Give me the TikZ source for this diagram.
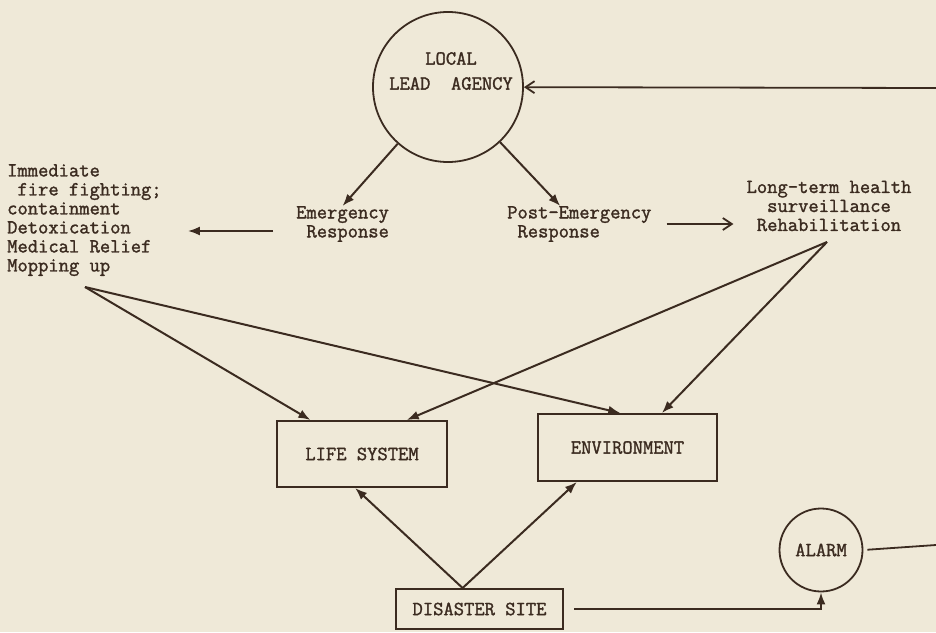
\documentclass[tikz,border=0pt]{standalone}
\usepackage{fontspec}
\setmonofont{Latin Modern Mono}[FakeBold=1.5]
\usepackage{tikz}
\usetikzlibrary{arrows.meta, calc}

\definecolor{ink}{HTML}{3B2B20}
\definecolor{paper}{HTML}{EFE9D8}

\begin{document}
\begin{tikzpicture}[
	x=1pt, y=-1pt,
	txt/.style={text=ink, font=\ttfamily\fontsize{20}{19}\selectfont, inner sep=0pt},
	agency/.style={circle, draw=ink, line width=1.8pt, minimum size=150pt, inner sep=0pt},
	box/.style={draw=ink, line width=2pt, txt, minimum width=170pt, minimum height=66pt},
	arrow/.style={ink, line width=2pt, -{Latex[length=12pt,width=9pt]}},
	openArrow/.style={ink, line width=1.8pt, -{Straight Barb[length=9pt,width=12pt]}}
	]
	
	\fill[paper] (0,0) rectangle (936,632);
	\useasboundingbox (0,0) rectangle (936,632);
	
	% Agencies
	\node[agency] (lla) at (448,87) {};
	\node[txt, align=center] (llaText) at (451,71) {LOCAL\\[6pt]LEAD\ \ AGENCY};
	\node[agency, txt, minimum size=83pt] (alarm) at (821,550) {ALARM};
	
	% Responses
	\node[txt, anchor=west, align=left] (emerg) at (296,224) {Emergency\\\hphantom{x}Response};
	\node[txt, anchor=west, align=left] (post) at (507,224) {Post-Emergency\\\hphantom{x}Response};
	\node[txt, anchor=north west, align=left] (imm) at (7,164) {Immediate\\\hphantom{x}fire fighting;\\containment\\Detoxication\\Medical Relief\\Mopping up};
	\node[txt, align=center] (long) at (829,206) {Long-term health\\surveillance\\Rehabilitation};
	
	% Systems
	\node[box] (life) at (362,454) {LIFE SYSTEM};
	\node[box, minimum width=179pt, minimum height=67pt] (env) at (627.5,447.5) {ENVIRONMENT};
	\node[box, minimum width=167pt, minimum height=40pt] (site) at (479.5,609) {DISASTER SITE};
	
	\coordinate (mopV) at (85,287);
	\coordinate (longV) at (827,242);
	\coordinate (siteV) at ($(site.north west)!.4!(site.north east)$);
	\coordinate (fromR) at (936,88);
	\coordinate (toR) at (936,545);
	\coordinate (eY) at (0,231);
	
	% top part
	\draw[openArrow] (fromR) -- (lla);
	\draw[arrow] (lla) -- (emerg.north);
	\draw[arrow] (lla) -- ([xshift=-19pt]post.north);
	\draw[arrow, shorten <=23pt, shorten >=26pt] (emerg.west |- eY) -- (imm.east |- eY);
	\draw[openArrow, shorten <=15pt, shorten >=13pt] (post.east) -- (post.east -| long.west);
	
	% crossing lines
	\draw[arrow] (mopV) -- ($(life.north west)!.2!(life.north east)$);
	\draw[arrow] (mopV) -- ($(env.north west)!.46!(env.north east)$);
	\draw[arrow] (longV) -- ($(life.north west)!.76!(life.north east)$);
	\draw[arrow] (longV) -- ($(env.north west)!.69!(env.north east)$);
	
	% bottom part
	\draw[arrow] (siteV) -- ($(life.south west)!.46!(life.south east)$);
	\draw[arrow] (siteV) -- ($(env.south west)!.22!(env.south east)$);
	\draw[arrow, shorten <=10pt] (site.east) -| (alarm.south);
	\draw[ink, line width=1.8pt, shorten <=4pt] (alarm.east) -- (toR);
\end{tikzpicture}
\end{document}
